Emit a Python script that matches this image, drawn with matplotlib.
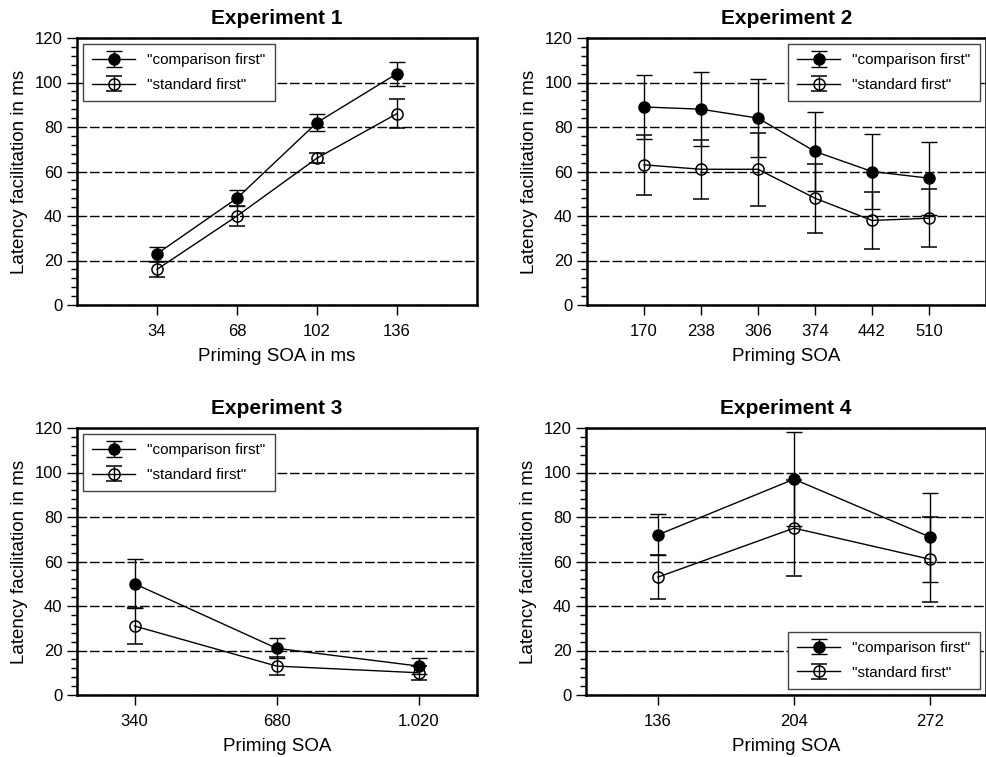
import matplotlib.pyplot as plt
from matplotlib.ticker import MultipleLocator

plt.rcParams["font.family"] = ["Liberation Sans", "DejaVu Sans"]

# Experiment data (means and error half-widths, ms)
exp1_soa = [34, 68, 102, 136]
exp1_comp = [23, 48, 82, 104]
exp1_comp_err = [3.2, 3.5, 4.0, 5.4]
exp1_std = [16, 40, 66, 86]
exp1_std_err = [3.2, 4.3, 2.4, 6.5]

exp2_soa = [170, 238, 306, 374, 442, 510]
exp2_comp = [89, 88, 84, 69, 60, 57]
exp2_comp_err = [14.5, 16.7, 17.7, 17.8, 17.0, 16.4]
exp2_std = [63, 61, 61, 48, 38, 39]
exp2_std_err = [13.5, 13.2, 16.5, 15.5, 13.0, 13.0]

exp3_soa = [340, 680, 1020]
exp3_labels = ["340", "680", "1.020"]
exp3_comp = [50, 21, 13]
exp3_comp_err = [11.0, 4.4, 3.5]
exp3_std = [31, 13, 10]
exp3_std_err = [8.2, 3.9, 3.2]

exp4_soa = [136, 204, 272]
exp4_comp = [72, 97, 71]
exp4_comp_err = [9.2, 21.0, 20.0]
exp4_std = [53, 75, 61]
exp4_std_err = [9.8, 21.5, 19.0]

W, H = 987, 757
fig = plt.figure(figsize=(W / 100, H / 100), dpi=100)


def panel(rect, title, soa, comp, comp_err, std, std_err, xlim, xlabel,
          legend_loc, xticklabels=None):
    l, t, w, h = rect
    ax = fig.add_axes([l / W, 1 - (t + h) / H, w / W, h / H])
    ax.errorbar(soa, comp, yerr=comp_err, color="black", lw=1, marker="o",
                ms=8, mfc="black", capsize=6, capthick=1, elinewidth=1,
                label='"comparison first"', zorder=3)
    ax.errorbar(soa, std, yerr=std_err, color="black", lw=1, marker="o",
                ms=8, mfc="none", mew=1.1, capsize=6, capthick=1, elinewidth=1,
                label='"standard first"', zorder=3)
    ax.set_xlim(*xlim)
    ax.set_ylim(0, 120)
    ax.set_xticks(soa)
    if xticklabels:
        ax.set_xticklabels(xticklabels)
    ax.yaxis.set_major_locator(MultipleLocator(20))
    ax.yaxis.set_minor_locator(MultipleLocator(4))
    ax.tick_params(axis="both", which="major", direction="out", length=7,
                   width=1, labelsize=12)
    ax.tick_params(axis="x", which="major", pad=7)
    ax.tick_params(axis="y", which="minor", direction="out", length=4, width=1)
    ax.yaxis.grid(True, which="major", color="black", lw=1,
                  linestyle=(0, (7, 2)))
    ax.set_axisbelow(True)
    for s in ax.spines.values():
        s.set_linewidth(1.8)
    ax.set_title(title, fontsize=15, fontweight="bold", pad=10)
    ax.set_xlabel(xlabel, fontsize=13.5, labelpad=6)
    ax.set_ylabel("Latency facilitation in ms", fontsize=13.5, labelpad=5)
    leg = ax.legend(loc=legend_loc, fontsize=11, fancybox=False,
                    framealpha=1, edgecolor="#444444", handlelength=2.8,
                    borderpad=0.6, labelspacing=0.7, borderaxespad=0.4)
    leg.get_frame().set_linewidth(1)
    return ax


panel((77, 38, 400, 267), "Experiment 1", exp1_soa, exp1_comp, exp1_comp_err,
      exp1_std, exp1_std_err, (0, 170), "Priming SOA in ms", "upper left")
panel((587, 38, 399, 267), "Experiment 2", exp2_soa, exp2_comp, exp2_comp_err,
      exp2_std, exp2_std_err, (102, 578), "Priming SOA", "upper right")
panel((77, 428, 400, 267), "Experiment 3", exp3_soa, exp3_comp, exp3_comp_err,
      exp3_std, exp3_std_err, (202, 1160), "Priming SOA", "upper left",
      xticklabels=exp3_labels)
panel((586, 428, 400, 267), "Experiment 4", exp4_soa, exp4_comp, exp4_comp_err,
      exp4_std, exp4_std_err, (100, 300), "Priming SOA", "lower right")

fig.savefig("out.png", dpi=100)
